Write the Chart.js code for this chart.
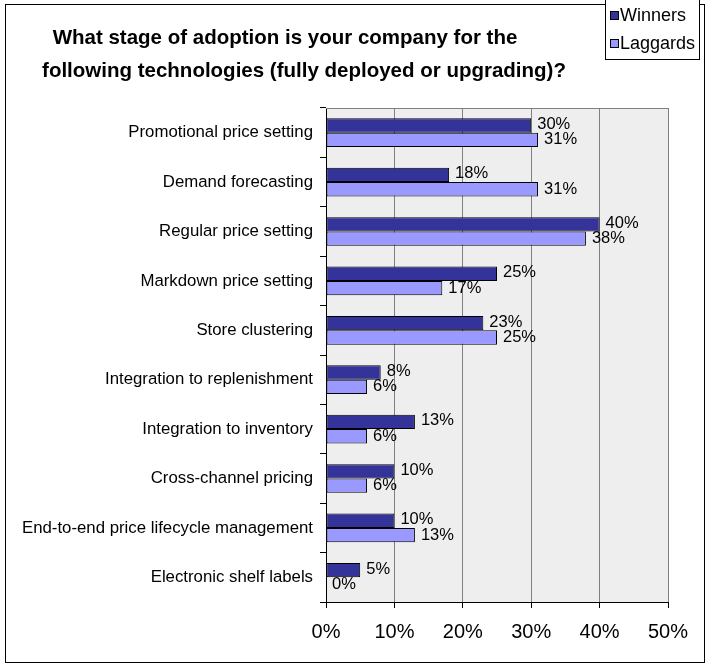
<!DOCTYPE html>
<html>
<head>
<meta charset="utf-8">
<script src="https://cdn.jsdelivr.net/npm/chart.js@4"></script>
<style>
  html, body { margin: 0; padding: 0; background: #fff; }
  #wrap { width: 710px; height: 666px; }
</style>
</head>
<body>
<div id="wrap"><canvas id="chart" width="710" height="666"></canvas></div>
<script>
const categories = [
  "Promotional price setting",
  "Demand forecasting",
  "Regular price setting",
  "Markdown price setting",
  "Store clustering",
  "Integration to replenishment",
  "Integration to inventory",
  "Cross-channel pricing",
  "End-to-end price lifecycle management",
  "Electronic shelf labels"
];
const winners = [30, 18, 40, 25, 23, 8, 13, 10, 10, 5];
const laggards = [31, 31, 38, 17, 25, 6, 6, 6, 13, 0];
const titleLines = [
  "What stage of adoption is your company for the",
  "following technologies (fully deployed or upgrading)?"
];
const seriesNames = ["Winners", "Laggards"];
const seriesColors = ["#333399", "#9999FF"];

const FONT = "'Liberation Sans', Arial, sans-serif";

// plot background, frame, title, legend and value labels
const decor = {
  id: "decor",
  beforeDraw(chart) {
    const { ctx, chartArea: a } = chart;
    ctx.save();
    ctx.fillStyle = "#fff";
    ctx.fillRect(0, 0, chart.width, chart.height);
    ctx.fillStyle = "#EEEEEE";
    ctx.fillRect(a.left, a.top, a.right - a.left, a.bottom - a.top);
    ctx.restore();
  },
  afterDatasetsDraw(chart) {
    const { ctx, chartArea: a } = chart;
    ctx.save();
    ctx.strokeStyle = "#808080";
    ctx.lineWidth = 1;
    ctx.beginPath();
    ctx.moveTo(a.left, a.top + 0.5);
    ctx.lineTo(a.right, a.top + 0.5);
    ctx.stroke();

    // value labels
    ctx.fillStyle = "#000";
    ctx.font = "16.5px " + FONT;
    ctx.textBaseline = "middle";
    ctx.textAlign = "left";
    chart.data.datasets.forEach((ds, i) => {
      chart.getDatasetMeta(i).data.forEach((bar, j) => {
        ctx.fillText(ds.data[j] + "%", bar.x + 6, bar.y + (i === 0 ? -1 : 0));
      });
    });

    // outer frame
    ctx.strokeStyle = "#000";
    ctx.strokeRect(5.5, 4.5, 699, 658);

    // title
    ctx.font = "bold 20.5px " + FONT;
    ctx.textBaseline = "alphabetic";
    ctx.textAlign = "center";
    ctx.fillText(titleLines[0], 285, 44);
    ctx.fillText(titleLines[1], 304, 77);

    // legend
    ctx.fillStyle = "#fff";
    ctx.fillRect(605, -1, 94, 60);
    ctx.strokeStyle = "#000";
    ctx.strokeRect(605.5, -0.5, 94, 60);
    ctx.font = "18px " + FONT;
    ctx.textAlign = "left";
    ctx.textBaseline = "middle";
    seriesNames.forEach((name, i) => {
      const cy = 16 + i * 28;
      ctx.fillStyle = seriesColors[i];
      ctx.fillRect(611, cy - 4, 7, 7);
      ctx.strokeStyle = "#000";
      ctx.strokeRect(610.5, cy - 4.5, 8, 8);
      ctx.fillStyle = "#000";
      ctx.fillText(name, 620, cy);
    });
    ctx.restore();
  }
};

new Chart(document.getElementById("chart"), {
  type: "bar",
  data: {
    labels: categories,
    datasets: [
      {
        label: seriesNames[0],
        data: winners,
        backgroundColor: seriesColors[0],
        borderColor: "#000",
        borderWidth: 1,
        borderSkipped: false
      },
      {
        label: seriesNames[1],
        data: laggards,
        backgroundColor: seriesColors[1],
        borderColor: "#000",
        borderWidth: 1,
        borderSkipped: false
      }
    ]
  },
  options: {
    indexAxis: "y",
    responsive: false,
    animation: false,
    categoryPercentage: 0.58,
    barPercentage: 1,
    layout: { padding: { top: 108, right: 42, left: 0, bottom: 0 } },
    plugins: {
      legend: { display: false },
      title: { display: false },
      tooltip: { enabled: false }
    },
    scales: {
      x: {
        min: 0,
        max: 50,
        ticks: {
          stepSize: 10,
          padding: 12,
          color: "#000",
          font: { family: FONT, size: 20 },
          callback: v => v + "%"
        },
        grid: {
          color: "#808080",
          tickColor: "#000",
          tickLength: 6
        },
        border: { color: "#000" },
        afterFit(scale) { scale.height = 64; }
      },
      y: {
        ticks: {
          padding: 7,
          color: "#000",
          font: { family: FONT, size: 16.8 }
        },
        grid: {
          offset: true,
          drawOnChartArea: false,
          tickColor: "#000",
          tickLength: 6
        },
        border: { color: "#000" },
        afterFit(scale) { scale.width = 326; }
      }
    }
  },
  plugins: [decor]
});
</script>
</body>
</html>
